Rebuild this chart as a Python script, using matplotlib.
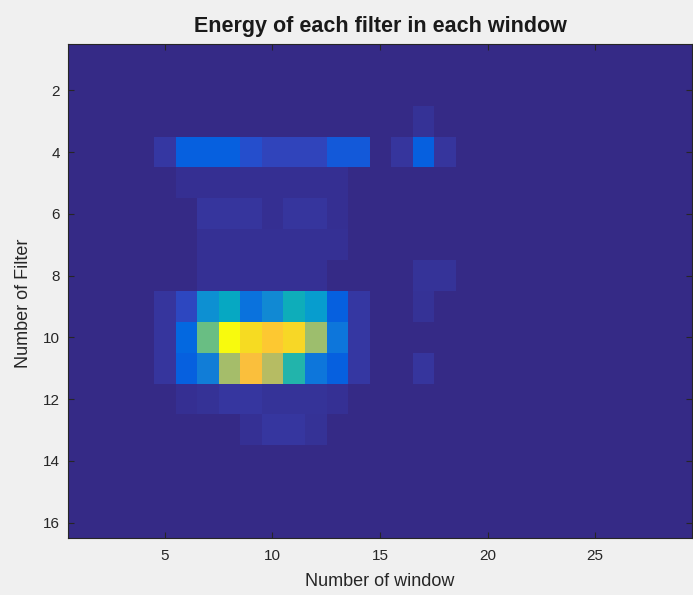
import numpy as np
import matplotlib
matplotlib.use("Agg")
import matplotlib.pyplot as plt
from matplotlib.colors import LinearSegmentedColormap

plt.rcParams['font.family'] = ['Liberation Sans', 'DejaVu Sans']

n_filters = 16
n_windows = 29
title = "Energy of each filter in each window"
xlabel = "Number of window"
ylabel = "Number of Filter"
xticks = [5, 10, 15, 20, 25]
yticks = [2, 4, 6, 8, 10, 12, 14, 16]

# Relative energy per (filter, window); only non-zero cells listed.
# Each entry: filter -> {window: energy}
energy_rows = {
    3: {17: 0.03},
    4: {5: 0.05, 6: 0.17, 7: 0.17, 8: 0.17, 9: 0.12, 10: 0.09, 11: 0.09,
        12: 0.09, 13: 0.15, 14: 0.15, 16: 0.04, 17: 0.17, 18: 0.04},
    5: {6: 0.02, 7: 0.02, 8: 0.02, 9: 0.02, 10: 0.02, 11: 0.02, 12: 0.02, 13: 0.02},
    6: {7: 0.04, 8: 0.04, 9: 0.04, 10: 0.02, 11: 0.04, 12: 0.04, 13: 0.02},
    7: {7: 0.025, 8: 0.025, 9: 0.025, 10: 0.025, 11: 0.025, 12: 0.025, 13: 0.025},
    8: {7: 0.025, 8: 0.025, 9: 0.025, 10: 0.025, 11: 0.025, 12: 0.025,
        17: 0.035, 18: 0.035},
    9: {5: 0.04, 6: 0.10, 7: 0.34, 8: 0.43, 9: 0.24, 10: 0.32, 11: 0.46,
        12: 0.38, 13: 0.17, 14: 0.05, 17: 0.03},
    10: {5: 0.04, 6: 0.20, 7: 0.60, 8: 1.00, 9: 0.92, 10: 0.87, 11: 0.91,
         12: 0.67, 13: 0.25, 14: 0.05},
    11: {5: 0.04, 6: 0.17, 7: 0.28, 8: 0.68, 9: 0.84, 10: 0.71, 11: 0.50,
         12: 0.25, 13: 0.17, 14: 0.05, 17: 0.04},
    12: {6: 0.02, 7: 0.03, 8: 0.045, 9: 0.045, 10: 0.035, 11: 0.035, 12: 0.035,
         13: 0.025},
    13: {9: 0.025, 10: 0.045, 11: 0.045, 12: 0.03},
}

energy = np.zeros((n_filters, n_windows))
for f, cols in energy_rows.items():
    for w, v in cols.items():
        energy[f - 1, w - 1] = v

# Parula-like colormap
parula_pts = [
    (0.2081, 0.1663, 0.5292), (0.2123, 0.2138, 0.6270), (0.1959, 0.2645, 0.7279),
    (0.1253, 0.3242, 0.8303), (0.0117, 0.3875, 0.8820), (0.0165, 0.4266, 0.8786),
    (0.0629, 0.4737, 0.8554), (0.0793, 0.5200, 0.8312), (0.0488, 0.5772, 0.8228),
    (0.0239, 0.6287, 0.8038), (0.0267, 0.6642, 0.7607), (0.0843, 0.6928, 0.7062),
    (0.1801, 0.7177, 0.6424), (0.3022, 0.7376, 0.5712), (0.4420, 0.7481, 0.5033),
    (0.5709, 0.7485, 0.4494), (0.6834, 0.7435, 0.4044), (0.7858, 0.7356, 0.3633),
    (0.8824, 0.7274, 0.3217), (0.9739, 0.7314, 0.2666), (0.9955, 0.7861, 0.1967),
    (0.9697, 0.8481, 0.1475), (0.9598, 0.9218, 0.0948), (0.9763, 0.9831, 0.0538),
]
parula = LinearSegmentedColormap.from_list("parula", parula_pts, N=256)

fig = plt.figure(figsize=(6.93, 5.95), dpi=100, facecolor="#f0f0f0")
ax = fig.add_axes([68 / 693, 57 / 595, 624 / 693, 494 / 595])
ax.imshow(energy, cmap=parula, vmin=0, vmax=energy.max(), aspect="auto",
          interpolation="nearest",
          extent=(0.5, n_windows + 0.5, n_filters + 0.5, 0.5))

ax.set_xticks(xticks)
ax.set_yticks(yticks)
ax.tick_params(direction="in", length=4, width=0.8, colors="#262626",
               labelsize=11, top=True, right=True, pad=6)
ax.tick_params(axis="x", pad=8)
for s in ax.spines.values():
    s.set_color("#262626")
    s.set_linewidth(0.8)

ax.set_title(title, fontsize=15.5, fontweight="bold", color="#1a1a1a", pad=8.5)
ax.set_xlabel(xlabel, fontsize=13, color="#262626", labelpad=7)
ax.set_ylabel(ylabel, fontsize=13, color="#262626")
ax.yaxis.set_label_coords(-0.057, 0.476)

fig.savefig("out.png", dpi=100, facecolor=fig.get_facecolor())
